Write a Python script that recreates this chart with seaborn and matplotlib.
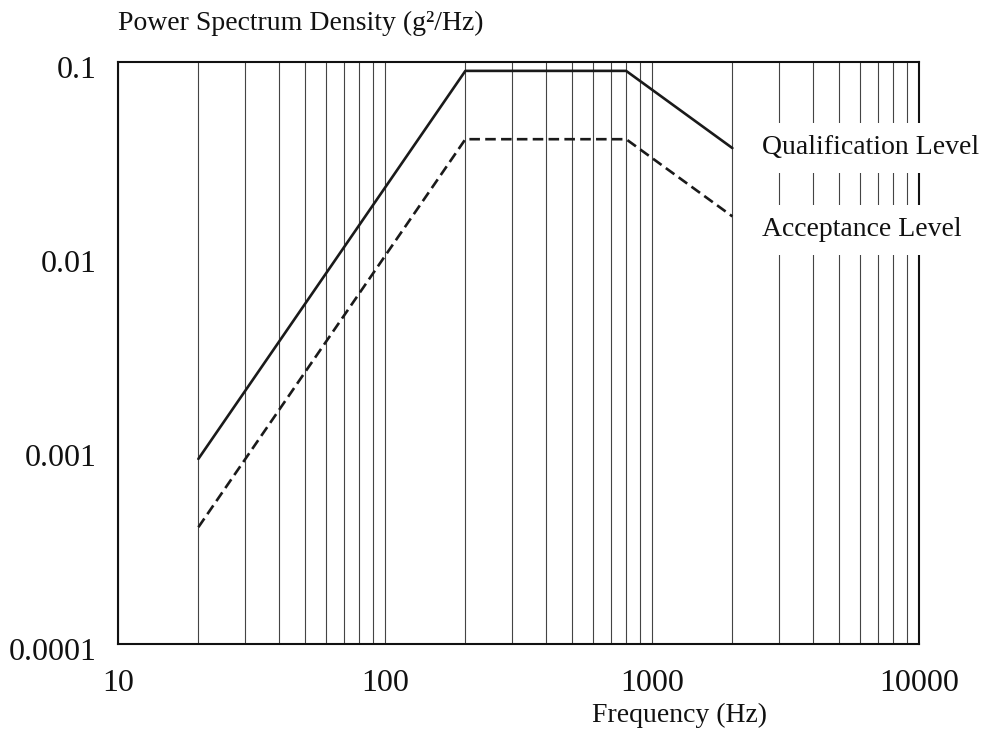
import matplotlib
matplotlib.use("Agg")
import matplotlib.pyplot as plt
import matplotlib.transforms as mtransforms
from matplotlib.ticker import LogLocator, FixedLocator, FixedFormatter, NullFormatter
import pandas as pd
import seaborn as sns

# Random vibration test profile (breakpoints of the PSD envelope)
freq_hz = [20, 200, 800, 2000]
qualification_psd = [0.0009, 0.09, 0.09, 0.036]
acceptance_psd = [0.0004, 0.04, 0.04, 0.016]
series_names = ["Qualification Level", "Acceptance Level"]

x_ticks = [10, 100, 1000, 10000]
x_tick_labels = ["10", "100", "1000", "10000"]
y_ticks = [0.0001, 0.001, 0.01, 0.1]
y_tick_labels = ["0.0001", "0.001", "0.01", "0.1"]

df = pd.DataFrame({
    "Frequency": freq_hz * 2,
    "PSD": qualification_psd + acceptance_psd,
    "Level": [series_names[0]] * len(freq_hz) + [series_names[1]] * len(freq_hz),
})

sns.set_theme(style="white")
plt.rcParams["font.family"] = ["Liberation Serif", "DejaVu Serif"]

fig = plt.figure(figsize=(9.84, 7.35), dpi=100)
ax = fig.add_axes([118 / 984, 91 / 735, 801 / 984, 582 / 735])

sns.lineplot(
    data=df, x="Frequency", y="PSD", style="Level", hue="Level",
    palette=["#1a1a1a", "#1a1a1a"],
    dashes={series_names[0]: "", series_names[1]: (4, 2)},
    linewidth=1.9, legend=False, ax=ax, zorder=3,
)

ax.set_xscale("log")
ax.set_yscale("log")
ax.set_xlim(10, 10000)
ax.set_ylim(0.0001, 0.1)

ax.xaxis.set_major_locator(FixedLocator(x_ticks))
ax.xaxis.set_major_formatter(FixedFormatter(x_tick_labels))
ax.xaxis.set_minor_locator(LogLocator(base=10, subs=range(2, 10), numticks=20))
ax.xaxis.set_minor_formatter(NullFormatter())
ax.yaxis.set_major_locator(FixedLocator(y_ticks))
ax.yaxis.set_major_formatter(FixedFormatter(y_tick_labels))
ax.yaxis.set_minor_locator(FixedLocator([]))

ax.tick_params(axis="both", which="both", length=0)
ax.tick_params(axis="x", labelsize=23, pad=18)
ax.tick_params(axis="y", labelsize=23, pad=15.5)

# Value labels on the y axis sit slightly below their gridline level
shift = mtransforms.ScaledTranslation(0, -5 / 100, fig.dpi_scale_trans)
for lab in ax.get_yticklabels():
    lab.set_transform(lab.get_transform() + shift)
for lab in ax.get_xticklabels() + ax.get_yticklabels():
    lab.set_color("#111111")

ax.grid(False)
ax.grid(True, which="both", axis="x", color="#444444", linewidth=0.8)
ax.set_axisbelow(True)

for side in ["left", "right", "top", "bottom"]:
    ax.spines[side].set_visible(True)
    ax.spines[side].set_color("#111111")
    ax.spines[side].set_linewidth(1.5)

ax.set_xlabel("")
ax.set_ylabel("")

fig.text(118 / 984, 1 - 23 / 735, "Power Spectrum Density (g²/Hz)",
         fontsize=20, ha="left", va="center", color="#111111")
fig.text(680 / 984, 1 - 715 / 735, "Frequency (Hz)",
         fontsize=20, ha="center", va="center", color="#111111")

box = dict(facecolor="white", edgecolor="none", pad=9)
ax.text(762 / 984, 1 - 148 / 735, series_names[0], transform=fig.transFigure,
        fontsize=20, ha="left", va="center", color="#111111", bbox=box,
        clip_on=False, zorder=5)
ax.text(762 / 984, 1 - 230 / 735, series_names[1], transform=fig.transFigure,
        fontsize=20, ha="left", va="center", color="#111111", bbox=box,
        clip_on=False, zorder=5)

fig.savefig("out.png", dpi=100, facecolor="white")
